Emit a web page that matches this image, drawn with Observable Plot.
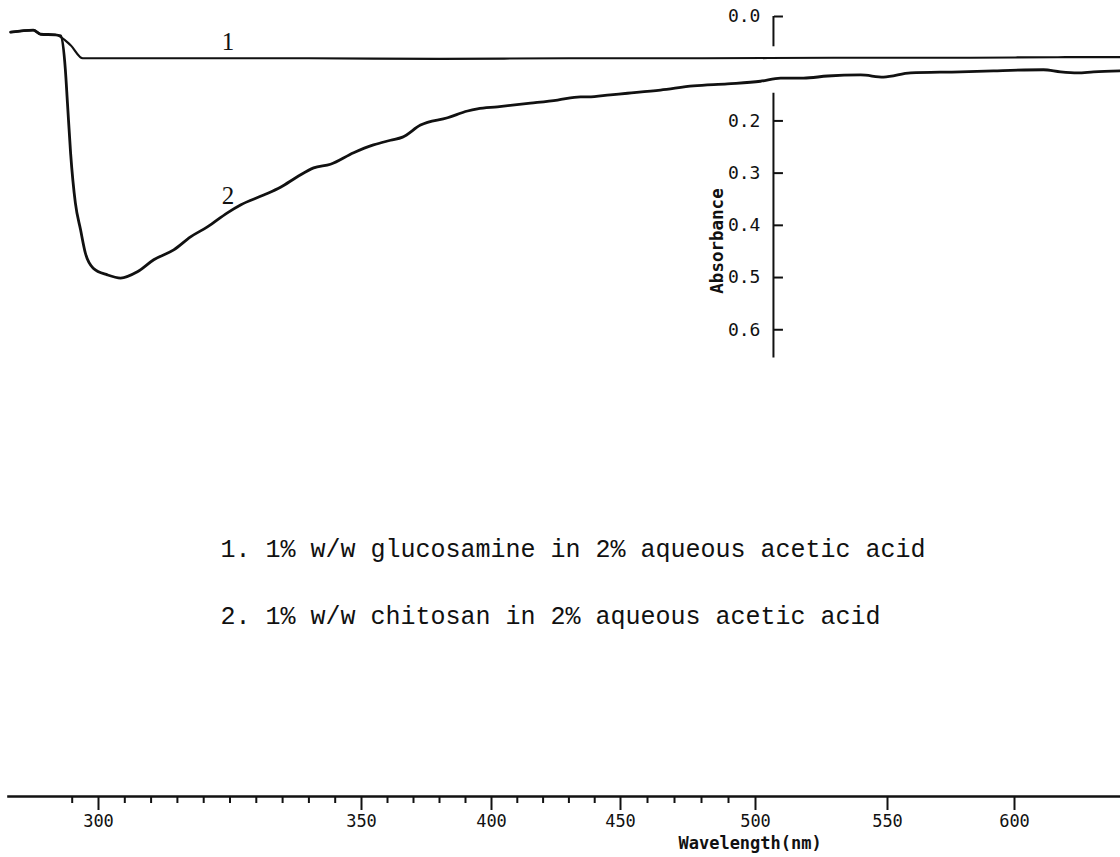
<!DOCTYPE html>
<html>
<head>
<meta charset="utf-8">
<script src="https://cdn.jsdelivr.net/npm/d3@7"></script>
<script src="https://cdn.jsdelivr.net/npm/@observablehq/plot@0.6"></script>
<style>
  body { margin: 0; background: #fff; }
  #chart svg { display: block; }
</style>
</head>
<body>
<div id="chart"></div>
<script>
// Wavelength axis: labelled ticks and the small chart-paper ticks between them (nm)
const majorTicks = [300, 350, 400, 450, 500, 550, 600];
const minorTicks = [295, 305, 310, 315, 320, 325, 330, 335, 340, 345,
                    360, 370, 380, 390, 410, 420, 430, 440, 460, 470, 480, 490];

// Absorbance axis ticks and the drawn spans of its line
const absTicks = [0, 0.2, 0.3, 0.4, 0.5, 0.6];
const absAxisSpans = [[0, 0.058], [0.147, 0.654]];
const absAxisAt = 506.8; // wavelength where the absorbance axis stands

// Trace 1: 1% w/w glucosamine in 2% aqueous acetic acid
const glucosamineWl  = [283.3, 287.6, 289.0, 291.8, 294.7, 297.0, 310, 340, 380, 430, 480, 530, 580, 620, 641.7];
const glucosamineAbs = [0.030, 0.026, 0.034, 0.035, 0.055, 0.080, 0.080, 0.080, 0.081, 0.080, 0.080, 0.079, 0.079, 0.078, 0.078];

// Trace 2: 1% w/w chitosan in 2% aqueous acetic acid
const chitosanWl = [283.3, 287.6, 289.0, 291.8, 292.8, 293.7, 294.1, 294.7, 295.6, 296.6,
                    297.5, 299.0, 301.7, 304.2, 307.4, 310.5, 314.3, 317.5, 320.7, 324.5,
                    327.0, 331.4, 334.6, 337.8, 340.9, 344.1, 348.5, 354.6, 361.2, 365.8,
                    372.7, 383.1, 390.8, 394.6, 402.3, 415.1, 425.6, 434.5, 437.5, 446.1,
                    452.6, 464.8, 477.0, 489.6, 501.9, 509.5, 518.2, 527.3, 539.8, 548.5,
                    559.1, 578.7, 591.7, 611.4, 618.1, 624.8, 631.1, 641.7];
const chitosanAbs = [0.030, 0.026, 0.034, 0.035, 0.037, 0.102, 0.166, 0.262, 0.357, 0.409,
                     0.453, 0.482, 0.495, 0.501, 0.489, 0.466, 0.447, 0.422, 0.403, 0.376,
                     0.361, 0.342, 0.327, 0.307, 0.290, 0.283, 0.261, 0.246, 0.237, 0.231,
                     0.208, 0.194, 0.181, 0.177, 0.173, 0.166, 0.160, 0.154, 0.154, 0.150,
                     0.147, 0.141, 0.133, 0.129, 0.124, 0.118, 0.118, 0.114, 0.112, 0.116,
                     0.108, 0.106, 0.104, 0.102, 0.106, 0.108, 0.106, 0.104];

const legendLines = [
  "1. 1% w/w glucosamine in 2% aqueous acetic acid",
  "2. 1% w/w chitosan in 2% aqueous acetic acid"
];
const curveTags = ["1", "2"];
const tagWavelength = 324.6;

const series = [
  {tag: curveTags[0], wl: glucosamineWl, abs: glucosamineAbs, width: 2.2},
  {tag: curveTags[1], wl: chitosanWl, abs: chitosanAbs, width: 2.8}
];

// linear interpolation along a trace, used to seat the curve numbers on their lines
function absAt(wl, abs, w) {
  const i = Math.max(1, d3.bisectLeft(wl, w));
  const t = (w - wl[i - 1]) / (wl[i] - wl[i - 1]);
  return abs[i - 1] + t * (abs[i] - abs[i - 1]);
}

const tagRows = series.map(s => ({tag: s.tag, wl: tagWavelength, abs: absAt(s.wl, s.abs, tagWavelength)}));

const mono = "'DejaVu Sans Mono', 'Liberation Mono', monospace";
const ink = "#111";

const marks = [
  // wavelength axis line and ticks
  Plot.frame({anchor: "bottom", stroke: ink, strokeWidth: 2.6}),
  Plot.axisX(minorTicks, {anchor: "bottom", tickSize: 7, strokeWidth: 2, stroke: ink, tickFormat: () => "", label: null}),
  Plot.axisX(majorTicks, {anchor: "bottom", tickSize: 14, tickPadding: 4, strokeWidth: 2, stroke: ink,
    fill: ink, fontFamily: mono, fontSize: 17, tickFormat: d => String(d), label: null}),
  Plot.text(["Wavelength(nm)"], {x: 498, frameAnchor: "bottom", dy: 52, fontFamily: mono, fontWeight: "bold",
    fontSize: 17, fill: ink}),

  // absorbance axis standing inside the plot
  Plot.ruleX(absAxisSpans, {x: absAxisAt, y1: d => d[0], y2: d => d[1], stroke: ink, strokeWidth: 2}),
  Plot.axisY(absTicks, {x: absAxisAt, anchor: "right", tickSize: 9, strokeWidth: 2, stroke: ink,
    tickFormat: () => "", label: null}),
  Plot.axisY(absTicks, {x: absAxisAt, anchor: "left", tickSize: 0, tickPadding: 13, fill: ink,
    fontFamily: mono, fontSize: 18, tickFormat: d3.format(".1f"), label: null}),
  Plot.text(["Absorbance"], {x: absAxisAt, y: 0.43, rotate: -90, dx: -56, fontFamily: mono,
    fontWeight: "bold", fontSize: 17.5, fill: ink}),

  // the two spectra
  ...series.map(s => Plot.line(s.wl.map((w, i) => ({wl: w, abs: s.abs[i]})), {
    x: "wl", y: "abs", curve: "monotone-x", stroke: ink, strokeWidth: s.width,
    strokeLinejoin: "round", strokeLinecap: "round"
  })),

  // curve numbers
  Plot.text(tagRows, {x: "wl", y: "abs", text: "tag", dy: -16, fontFamily: "'Liberation Serif', 'DejaVu Serif', serif",
    fontSize: 25, fill: ink}),

  // key
  ...legendLines.map((line, i) => Plot.text([line], {frameAnchor: "top-left", dx: 212, dy: 532 + i * 67,
    textAnchor: "start", lineAnchor: "middle", fontFamily: "'Liberation Mono', monospace", fontSize: 25, fill: ink}))
];

const chart = Plot.plot({
  width: 1120,
  height: 857,
  marginLeft: 8,
  marginRight: 0,
  marginTop: 16,
  marginBottom: 61,
  style: {background: "#fff", color: ink, overflow: "visible"},
  x: {type: "linear", domain: majorTicks, range: [98, 361, 491, 620, 755, 887, 1014]},
  y: {domain: [0, 1.494], reverse: true},
  marks
});

document.getElementById("chart").append(chart);
</script>
</body>
</html>
